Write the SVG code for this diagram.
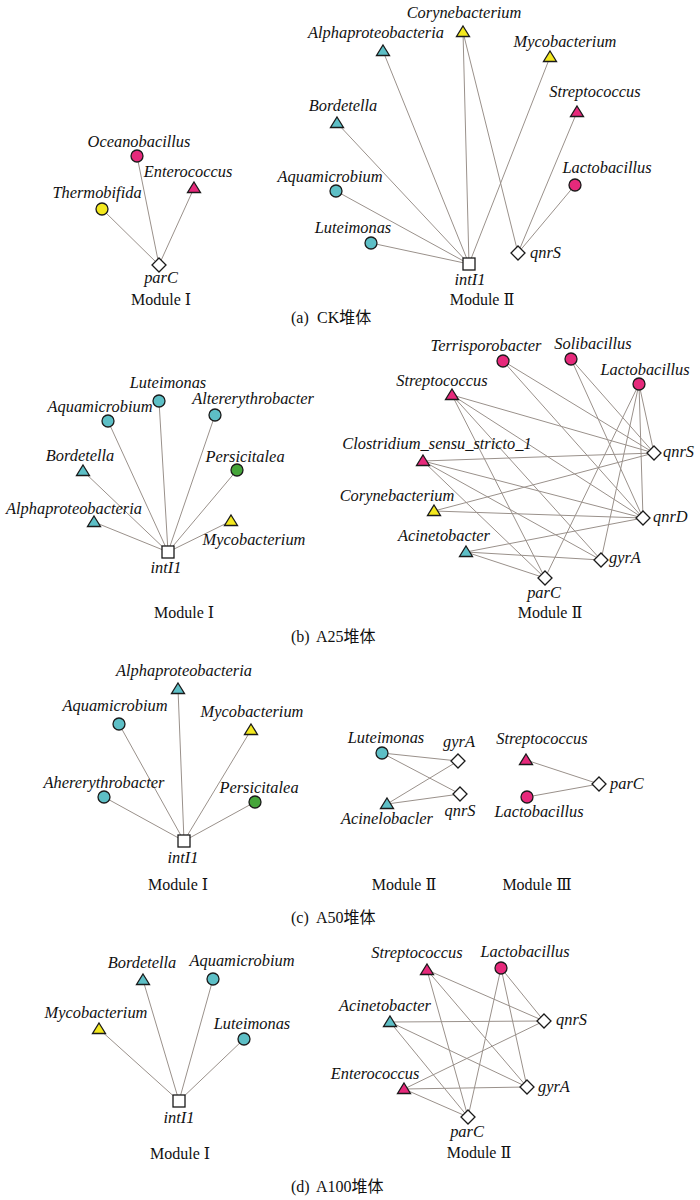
<svg xmlns="http://www.w3.org/2000/svg" xmlns:xlink="http://www.w3.org/1999/xlink" width="700" height="1200" viewBox="0 0 700 1200">
<style>
.e line{stroke:#9a918b;stroke-width:1;fill:none}
.n{stroke:#1a1a1a;stroke-width:1.3}
.cy{fill:#5dbfc6}
.pk{fill:#e6297b}
.ye{fill:#f3e81e}
.gr{fill:#45a53a}
.wh{fill:#ffffff}
.l{font-family:"Liberation Serif","DejaVu Serif",serif;font-style:italic;font-size:16.4px;fill:#111;text-anchor:middle}
.ls{font-family:"Liberation Serif","DejaVu Serif",serif;font-style:italic;font-size:16.4px;fill:#111;text-anchor:start}
.m{font-family:"Liberation Serif","DejaVu Serif","Noto Sans CJK SC",serif;font-size:16px;fill:#111;text-anchor:middle}
.c{font-family:"Liberation Serif","Noto Sans CJK SC",serif;font-size:16px;fill:#111;text-anchor:start}
</style>
<defs>
<path id="tri" d="M0,-6 L6.5,4.5 L-6.5,4.5 Z"/>
<circle id="cir" cx="0" cy="0" r="6"/>
<path id="dia" d="M0,-7 L7,0 L0,7 L-7,0 Z"/>
<rect id="sq" x="-6" y="-6" width="12" height="12"/>
</defs>
<rect width="700" height="1200" fill="#ffffff"/>

<g id="connectors" class="e">
<!-- (a) Module I -->
<line x1="159" y1="265" x2="137" y2="156"/>
<line x1="159" y1="265" x2="194" y2="188"/>
<line x1="159" y1="265" x2="102" y2="209"/>
<!-- (a) Module II -->
<line x1="469" y1="264" x2="371" y2="243"/>
<line x1="469" y1="264" x2="336" y2="191"/>
<line x1="469" y1="264" x2="337" y2="123"/>
<line x1="469" y1="264" x2="383" y2="51"/>
<line x1="469" y1="264" x2="463" y2="32"/>
<line x1="469" y1="264" x2="550" y2="57"/>
<line x1="518" y1="253" x2="463" y2="32"/>
<line x1="518" y1="253" x2="577" y2="112"/>
<line x1="518" y1="253" x2="575" y2="185"/>
<!-- (b) Module I -->
<line x1="168" y1="552" x2="159" y2="401"/>
<line x1="168" y1="552" x2="108" y2="421"/>
<line x1="168" y1="552" x2="215" y2="415"/>
<line x1="168" y1="552" x2="83" y2="471"/>
<line x1="168" y1="552" x2="237" y2="470"/>
<line x1="168" y1="552" x2="94" y2="522"/>
<line x1="168" y1="552" x2="231" y2="521"/>
<!-- (b) Module II -->
<line x1="503" y1="361" x2="654" y2="453"/>
<line x1="503" y1="361" x2="643" y2="518"/>
<line x1="571" y1="359" x2="654" y2="453"/>
<line x1="571" y1="359" x2="643" y2="518"/>
<line x1="639" y1="384" x2="654" y2="453"/>
<line x1="639" y1="384" x2="643" y2="518"/>
<line x1="639" y1="384" x2="601" y2="560"/>
<line x1="639" y1="384" x2="545" y2="578"/>
<line x1="452" y1="395" x2="654" y2="453"/>
<line x1="452" y1="395" x2="643" y2="518"/>
<line x1="452" y1="395" x2="601" y2="560"/>
<line x1="452" y1="395" x2="545" y2="578"/>
<line x1="423" y1="461" x2="654" y2="453"/>
<line x1="423" y1="461" x2="643" y2="518"/>
<line x1="423" y1="461" x2="601" y2="560"/>
<line x1="423" y1="461" x2="545" y2="578"/>
<line x1="434" y1="511" x2="654" y2="453"/>
<line x1="434" y1="511" x2="643" y2="518"/>
<line x1="466" y1="552" x2="643" y2="518"/>
<line x1="466" y1="552" x2="601" y2="560"/>
<line x1="466" y1="552" x2="545" y2="578"/>
<!-- (c) Module I -->
<line x1="184" y1="841" x2="178" y2="689"/>
<line x1="184" y1="841" x2="119" y2="724"/>
<line x1="184" y1="841" x2="251" y2="730"/>
<line x1="184" y1="841" x2="104" y2="797"/>
<line x1="184" y1="841" x2="255" y2="802"/>
<!-- (c) Module II -->
<line x1="382" y1="753" x2="458" y2="761"/>
<line x1="382" y1="753" x2="460" y2="794"/>
<line x1="387" y1="804" x2="458" y2="761"/>
<line x1="387" y1="804" x2="460" y2="794"/>
<!-- (c) Module III -->
<line x1="526" y1="760" x2="599" y2="784"/>
<line x1="527" y1="797" x2="599" y2="784"/>
<!-- (d) Module I -->
<line x1="179" y1="1101" x2="143" y2="980"/>
<line x1="179" y1="1101" x2="213" y2="979"/>
<line x1="179" y1="1101" x2="99" y2="1029"/>
<line x1="179" y1="1101" x2="244" y2="1039"/>
<!-- (d) Module II -->
<line x1="427" y1="970" x2="544" y2="1021"/>
<line x1="427" y1="970" x2="527" y2="1087"/>
<line x1="427" y1="970" x2="468" y2="1117"/>
<line x1="501" y1="968" x2="544" y2="1021"/>
<line x1="501" y1="968" x2="527" y2="1087"/>
<line x1="501" y1="968" x2="468" y2="1117"/>
<line x1="390" y1="1022" x2="544" y2="1021"/>
<line x1="390" y1="1022" x2="527" y2="1087"/>
<line x1="390" y1="1022" x2="468" y2="1117"/>
<line x1="404" y1="1089" x2="544" y2="1021"/>
<line x1="404" y1="1089" x2="527" y2="1087"/>
<line x1="404" y1="1089" x2="468" y2="1117"/>
</g>

<!-- (a) Module I -->
<g id="a1-oceanobacillus"><use href="#cir" x="137" y="156" class="n pk"/><text class="l" x="139" y="147">Oceanobacillus</text></g>
<g id="a1-enterococcus"><use href="#tri" x="194" y="188" class="n pk"/><text class="l" x="188" y="177">Enterococcus</text></g>
<g id="a1-thermobifida"><use href="#cir" x="102" y="209" class="n ye"/><text class="l" x="97" y="198">Thermobifida</text></g>
<g id="a1-parC"><use href="#dia" x="159" y="265" class="n wh"/><text class="l" x="161" y="283">parC</text></g>
<text class="m" x="161" y="305">Module Ⅰ</text>

<!-- (a) Module II -->
<g id="a2-corynebacterium"><use href="#tri" x="463" y="32" class="n ye"/><text class="l" x="464" y="18">Corynebacterium</text></g>
<g id="a2-alphaproteobacteria"><use href="#tri" x="383" y="51" class="n cy"/><text class="l" x="376" y="38">Alphaproteobacteria</text></g>
<g id="a2-mycobacterium"><use href="#tri" x="550" y="57" class="n ye"/><text class="l" x="565" y="47">Mycobacterium</text></g>
<g id="a2-bordetella"><use href="#tri" x="337" y="123" class="n cy"/><text class="l" x="343" y="111">Bordetella</text></g>
<g id="a2-streptococcus"><use href="#tri" x="577" y="112" class="n pk"/><text class="l" x="595" y="97">Streptococcus</text></g>
<g id="a2-lactobacillus"><use href="#cir" x="575" y="185" class="n pk"/><text class="l" x="607" y="173">Lactobacillus</text></g>
<g id="a2-aquamicrobium"><use href="#cir" x="336" y="191" class="n cy"/><text class="l" x="330" y="182">Aquamicrobium</text></g>
<g id="a2-luteimonas"><use href="#cir" x="371" y="243" class="n cy"/><text class="l" x="353" y="233">Luteimonas</text></g>
<g id="a2-intI1"><use href="#sq" x="469" y="264" class="n wh"/><text class="l" x="470" y="285">intI1</text></g>
<g id="a2-qnrS"><use href="#dia" x="518" y="253" class="n wh"/><text class="ls" x="530" y="258">qnrS</text></g>
<text class="m" x="482" y="305">Module Ⅱ</text>
<text class="c" y="323"><tspan x="291">(a)</tspan><tspan x="317">CK堆体</tspan></text>

<!-- (b) Module I -->
<g id="b1-luteimonas"><use href="#cir" x="159" y="401" class="n cy"/><text class="l" x="168" y="388">Luteimonas</text></g>
<g id="b1-aquamicrobium"><use href="#cir" x="108" y="421" class="n cy"/><text class="l" x="100" y="412">Aquamicrobium</text></g>
<g id="b1-altererythrobacter"><use href="#cir" x="215" y="415" class="n cy"/><text class="l" x="253" y="404">Altererythrobacter</text></g>
<g id="b1-bordetella"><use href="#tri" x="83" y="471" class="n cy"/><text class="l" x="80" y="461">Bordetella</text></g>
<g id="b1-persicitalea"><use href="#cir" x="237" y="470" class="n gr"/><text class="l" x="245" y="462">Persicitalea</text></g>
<g id="b1-alphaproteobacteria"><use href="#tri" x="94" y="522" class="n cy"/><text class="l" x="74" y="514">Alphaproteobacteria</text></g>
<g id="b1-mycobacterium"><use href="#tri" x="231" y="521" class="n ye"/><text class="l" x="254" y="545">Mycobacterium</text></g>
<g id="b1-intI1"><use href="#sq" x="168" y="552" class="n wh"/><text class="l" x="166" y="573">intI1</text></g>
<text class="m" x="184" y="618">Module Ⅰ</text>

<!-- (b) Module II -->
<g id="b2-terrisporobacter"><use href="#cir" x="503" y="361" class="n pk"/><text class="l" x="486" y="351">Terrisporobacter</text></g>
<g id="b2-solibacillus"><use href="#cir" x="571" y="359" class="n pk"/><text class="l" x="593" y="349">Solibacillus</text></g>
<g id="b2-lactobacillus"><use href="#cir" x="639" y="384" class="n pk"/><text class="l" x="645" y="375">Lactobacillus</text></g>
<g id="b2-streptococcus"><use href="#tri" x="452" y="395" class="n pk"/><text class="l" x="442" y="386">Streptococcus</text></g>
<g id="b2-clostridium"><use href="#tri" x="423" y="461" class="n pk"/><text class="l" x="437" y="449">Clostridium_sensu_stricto_1</text></g>
<g id="b2-corynebacterium"><use href="#tri" x="434" y="511" class="n ye"/><text class="l" x="397" y="501">Corynebacterium</text></g>
<g id="b2-acinetobacter"><use href="#tri" x="466" y="552" class="n cy"/><text class="l" x="444" y="541">Acinetobacter</text></g>
<g id="b2-qnrS"><use href="#dia" x="654" y="453" class="n wh"/><text class="ls" x="663" y="457">qnrS</text></g>
<g id="b2-qnrD"><use href="#dia" x="643" y="518" class="n wh"/><text class="ls" x="653" y="522">qnrD</text></g>
<g id="b2-gyrA"><use href="#dia" x="601" y="560" class="n wh"/><text class="ls" x="609" y="563">gyrA</text></g>
<g id="b2-parC"><use href="#dia" x="545" y="578" class="n wh"/><text class="l" x="544" y="598">parC</text></g>
<text class="m" x="550" y="618">Module Ⅱ</text>
<text class="c" y="642"><tspan x="291">(b)</tspan><tspan x="316">A25堆体</tspan></text>

<!-- (c) Module I -->
<g id="c1-alphaproteobacteria"><use href="#tri" x="178" y="689" class="n cy"/><text class="l" x="184" y="676">Alphaproteobacteria</text></g>
<g id="c1-aquamicrobium"><use href="#cir" x="119" y="724" class="n cy"/><text class="l" x="115" y="711">Aquamicrobium</text></g>
<g id="c1-mycobacterium"><use href="#tri" x="251" y="730" class="n ye"/><text class="l" x="252" y="717">Mycobacterium</text></g>
<g id="c1-ahererythrobacter"><use href="#cir" x="104" y="797" class="n cy"/><text class="l" x="104" y="788">Ahererythrobacter</text></g>
<g id="c1-persicitalea"><use href="#cir" x="255" y="802" class="n gr"/><text class="l" x="259" y="793">Persicitalea</text></g>
<g id="c1-intI1"><use href="#sq" x="184" y="841" class="n wh"/><text class="l" x="183" y="863">intI1</text></g>
<text class="m" x="178" y="890">Module Ⅰ</text>

<!-- (c) Module II -->
<g id="c2-luteimonas"><use href="#cir" x="382" y="753" class="n cy"/><text class="l" x="386" y="743">Luteimonas</text></g>
<g id="c2-gyrA"><use href="#dia" x="458" y="761" class="n wh"/><text class="l" x="459" y="747">gyrA</text></g>
<g id="c2-qnrS"><use href="#dia" x="460" y="794" class="n wh"/><text class="l" x="460" y="816">qnrS</text></g>
<g id="c2-acinelobacler"><use href="#tri" x="387" y="804" class="n cy"/><text class="l" x="387" y="824">Acinelobacler</text></g>
<text class="m" x="404" y="890">Module Ⅱ</text>

<!-- (c) Module III -->
<g id="c3-streptococcus"><use href="#tri" x="526" y="760" class="n pk"/><text class="l" x="542" y="744">Streptococcus</text></g>
<g id="c3-lactobacillus"><use href="#cir" x="527" y="797" class="n pk"/><text class="l" x="539" y="817">Lactobacillus</text></g>
<g id="c3-parC"><use href="#dia" x="599" y="784" class="n wh"/><text class="ls" x="610" y="789">parC</text></g>
<text class="m" x="537" y="890">Module Ⅲ</text>
<text class="c" y="923"><tspan x="291">(c)</tspan><tspan x="316">A50堆体</tspan></text>

<!-- (d) Module I -->
<g id="d1-bordetella"><use href="#tri" x="143" y="980" class="n cy"/><text class="l" x="142" y="968">Bordetella</text></g>
<g id="d1-aquamicrobium"><use href="#cir" x="213" y="979" class="n cy"/><text class="l" x="242" y="966">Aquamicrobium</text></g>
<g id="d1-mycobacterium"><use href="#tri" x="99" y="1029" class="n ye"/><text class="l" x="96" y="1018">Mycobacterium</text></g>
<g id="d1-luteimonas"><use href="#cir" x="244" y="1039" class="n cy"/><text class="l" x="252" y="1029">Luteimonas</text></g>
<g id="d1-intI1"><use href="#sq" x="179" y="1101" class="n wh"/><text class="l" x="179" y="1123">intI1</text></g>
<text class="m" x="180" y="1159">Module Ⅰ</text>

<!-- (d) Module II -->
<g id="d2-streptococcus"><use href="#tri" x="427" y="970" class="n pk"/><text class="l" x="417" y="958">Streptococcus</text></g>
<g id="d2-lactobacillus"><use href="#cir" x="501" y="968" class="n pk"/><text class="l" x="525" y="957">Lactobacillus</text></g>
<g id="d2-acinetobacter"><use href="#tri" x="390" y="1022" class="n cy"/><text class="l" x="385" y="1011">Acinetobacter</text></g>
<g id="d2-qnrS"><use href="#dia" x="544" y="1021" class="n wh"/><text class="ls" x="556" y="1025">qnrS</text></g>
<g id="d2-enterococcus"><use href="#tri" x="404" y="1089" class="n pk"/><text class="l" x="375" y="1079">Enterococcus</text></g>
<g id="d2-gyrA"><use href="#dia" x="527" y="1087" class="n wh"/><text class="ls" x="538" y="1092">gyrA</text></g>
<g id="d2-parC"><use href="#dia" x="468" y="1117" class="n wh"/><text class="l" x="467" y="1137">parC</text></g>
<text class="m" x="479" y="1158">Module Ⅱ</text>
<text class="c" y="1192"><tspan x="291">(d)</tspan><tspan x="316">A100堆体</tspan></text>
</svg>
